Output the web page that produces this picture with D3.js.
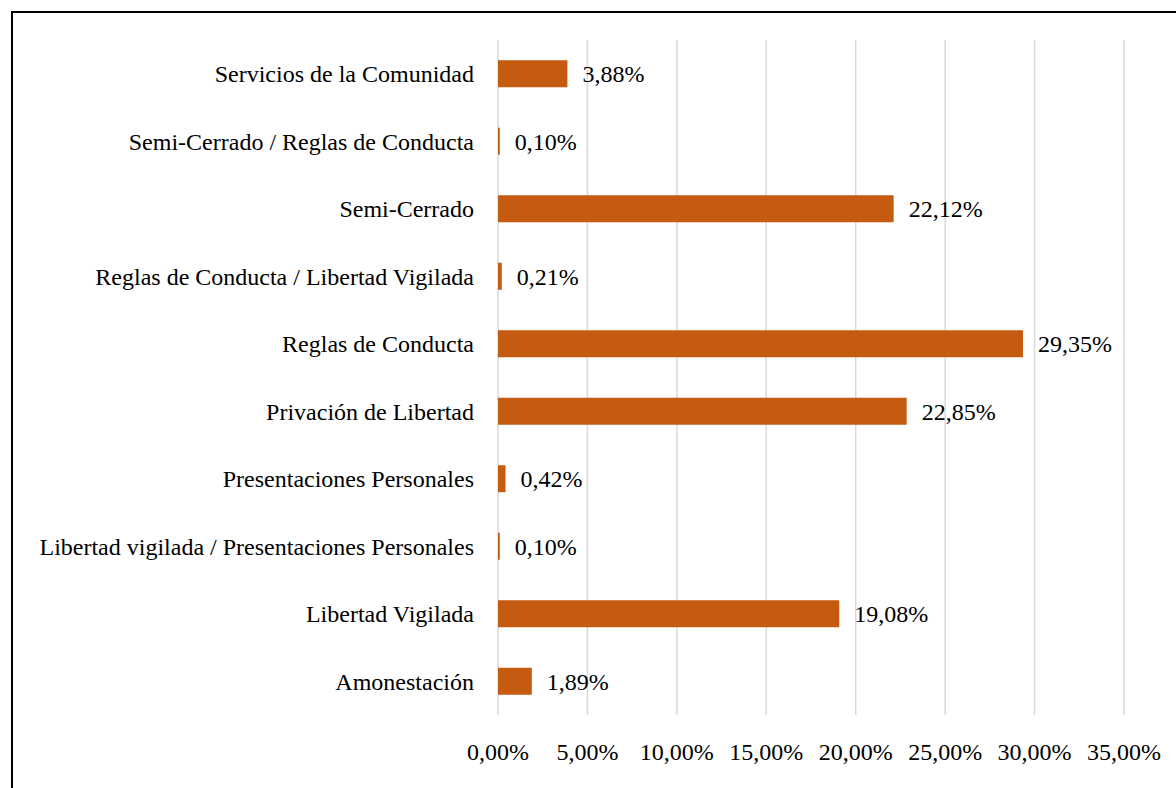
<!DOCTYPE html>
<html>
<head>
<meta charset="utf-8">
<script src="https://cdn.jsdelivr.net/npm/d3@7"></script>
<style>
  body { margin: 0; background: #fff; }
  svg { display: block; font-family: "Liberation Serif", "Times New Roman", serif; }
</style>
</head>
<body>
<div id="chart"></div>
<script>
// data, top to bottom as in the chart
const categories = [
  'Servicios de la Comunidad',
  'Semi-Cerrado / Reglas de Conducta',
  'Semi-Cerrado',
  'Reglas de Conducta / Libertad Vigilada',
  'Reglas de Conducta',
  'Privación de Libertad',
  'Presentaciones Personales',
  'Libertad vigilada / Presentaciones Personales',
  'Libertad Vigilada',
  'Amonestación'
];
const values = [3.88, 0.10, 22.12, 0.21, 29.35, 22.85, 0.42, 0.10, 19.08, 1.89];
const ticks = [0, 5, 10, 15, 20, 25, 30, 35];

const width = 1176, height = 788;
const fmt = v => v.toFixed(2).replace('.', ',') + '%';

let svg = d3.select("#chart")
  .append("svg")
  .attr("width", width)
  .attr("height", height);

// frame (right and bottom edges fall outside the picture)
svg.append("rect")
  .attr("x", 12).attr("y", 12)
  .attr("width", 1200).attr("height", 800)
  .attr("fill", "none")
  .attr("stroke", "#000")
  .attr("stroke-width", 2);

let x = d3.scaleLinear().domain([0, 35]).range([498, 1124]);
let y = d3.scaleBand().domain(categories).range([40, 715]).paddingInner(0.6).paddingOuter(0.3);

// gridlines
svg.selectAll("line.grid")
  .data(ticks)
  .enter().append("line")
  .attr("class", "grid")
  .attr("x1", d => x(d)).attr("x2", d => x(d))
  .attr("y1", 40).attr("y2", 715)
  .attr("stroke", "#d9d9d9")
  .attr("stroke-width", 1.5);

// x tick labels
svg.selectAll("text.tick")
  .data(ticks)
  .enter().append("text")
  .attr("class", "tick")
  .attr("x", d => x(d))
  .attr("y", 760)
  .attr("text-anchor", "middle")
  .attr("font-size", 24)
  .text(d => fmt(d));

// bars
svg.selectAll("rect.bar")
  .data(values)
  .enter().append("rect")
  .attr("class", "bar")
  .attr("x", x(0))
  .attr("y", (d, i) => y(categories[i]))
  .attr("width", d => x(d) - x(0))
  .attr("height", y.bandwidth())
  .attr("fill", "#C55A11");

// category labels
svg.selectAll("text.cat")
  .data(categories)
  .enter().append("text")
  .attr("class", "cat")
  .attr("x", 474)
  .attr("y", d => y(d) + y.bandwidth() / 2)
  .attr("dy", "0.35em")
  .attr("text-anchor", "end")
  .attr("font-size", 24)
  .text(d => d);

// value labels
svg.selectAll("text.val")
  .data(values)
  .enter().append("text")
  .attr("class", "val")
  .attr("x", d => x(d) + 15)
  .attr("y", (d, i) => y(categories[i]) + y.bandwidth() / 2)
  .attr("dy", "0.35em")
  .attr("font-size", 24)
  .text(d => fmt(d));
</script>
</body>
</html>
